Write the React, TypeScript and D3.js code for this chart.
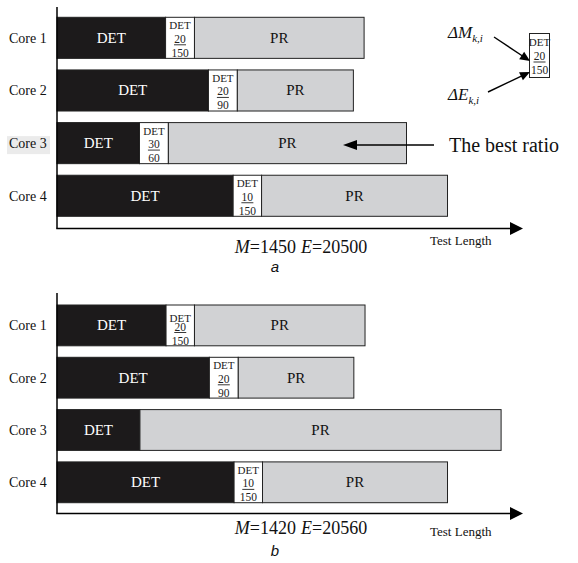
import React from "react";
import * as d3 from "d3";

const cores = ["Core 1", "Core 2", "Core 3", "Core 4"];

// Panel a: segment lengths (test-length units)
const detA = [23.3, 32.5, 17.7, 37.8];
const deltaA = [6.2, 6.2, 6.2, 6.1];
const prA = [36.4, 24.9, 51.1, 39.9];
const dMA: (number | null)[] = [20, 20, 30, 10];
const dEA: (number | null)[] = [150, 90, 60, 150];

// Panel b
const detB = [23.4, 32.7, 17.8, 38.0];
const deltaB = [6.1, 6.2, 0, 6.1];
const prB = [36.6, 24.8, 77.5, 39.7];
const dMB: (number | null)[] = [20, 20, null, 10];
const dEB: (number | null)[] = [150, 90, null, 150];

const totalsA = { M: 1450, E: 20500 };
const totalsB = { M: 1420, E: 20560 };

const SERIF = "'Liberation Serif', 'Times New Roman', serif";
const SANS = "'Liberation Sans', Arial, sans-serif";

const x = d3.scaleLinear().domain([0, 100]).range([57, 523]);

function Arrow({ x1, y1, x2, y2, len = 13, half = 5, sw = 1.6 }: any) {
  const dx = x2 - x1, dy = y2 - y1;
  const L = Math.hypot(dx, dy);
  const ux = dx / L, uy = dy / L;
  const bx = x2 - ux * len, by = y2 - uy * len;
  const px = -uy, py = ux;
  const pts = [
    [x2, y2],
    [bx + px * half, by + py * half],
    [bx - px * half, by - py * half],
  ];
  return (
    <g>
      <line x1={x1} y1={y1} x2={bx + ux * 1} y2={by + uy * 1} stroke="#000" strokeWidth={sw} />
      <polygon points={pts.map((p) => p.join(",")).join(" ")} fill="#000" />
    </g>
  );
}

function Panel({ det, delta, pr, dM, dE, bandRange, axisTop, axisY, totals, totalsY, tlY, letter, letterY, highlight, boxShift }: any) {
  const y = d3.scaleBand<string>().domain(cores).range(bandRange).paddingInner(0.22).paddingOuter(0);
  const bw = y.bandwidth();
  return (
    <g>
      {cores.map((c, i) => {
        const top = y(c)!;
        const cy = top + bw / 2;
        const x0 = x(0), x1 = x(det[i]), x2 = x(det[i] + delta[i]), x3 = x(det[i] + delta[i] + pr[i]);
        const sh = boxShift ? boxShift[i] : 0;
        return (
          <g key={c}>
            {highlight === i && <rect x={7} y={cy - 7} width={43} height={18} fill="#ebebeb" />}
            <text x={9} y={cy + 5} fontFamily={SERIF} fontSize={14} fill="#111">{c}</text>
            <rect x={x0} y={top} width={x1 - x0} height={bw} fill="#1c1a1b" stroke="#222" strokeWidth={1} />
            <text x={(x0 + x1) / 2} y={cy + 5} textAnchor="middle" fontFamily={SERIF} fontSize={15} fill="#fff">DET</text>
            {delta[i] > 0 && (
              <g>
                <rect x={x1} y={top} width={x2 - x1} height={bw} fill="#fff" stroke="#222" strokeWidth={1} />
                <text x={(x1 + x2) / 2} y={top + 12 + sh} textAnchor="middle" fontFamily={SERIF} fontSize={11} fill="#222">DET</text>
                <text x={(x1 + x2) / 2} y={top + 25.5} textAnchor="middle" fontFamily={SERIF} fontSize={11.5} fill="#222">{dM[i]}</text>
                <line x1={(x1 + x2) / 2 - 6} x2={(x1 + x2) / 2 + 6} y1={top + 27.5} y2={top + 27.5} stroke="#222" strokeWidth={0.9} />
                <text x={(x1 + x2) / 2} y={top + 39.5} textAnchor="middle" fontFamily={SERIF} fontSize={11.5} fill="#222">{dE[i]}</text>
              </g>
            )}
            <rect x={x2} y={top} width={x3 - x2} height={bw} fill="#d1d2d4" stroke="#222" strokeWidth={1} />
            <text x={(x2 + x3) / 2} y={cy + 5} textAnchor="middle" fontFamily={SERIF} fontSize={15} fill="#111">PR</text>
          </g>
        );
      })}
      <line x1={x(0)} x2={x(0)} y1={axisTop} y2={axisY} stroke="#000" strokeWidth={1.5} />
      <Arrow x1={x(0) - 0.75} y1={axisY} x2={x(100)} y2={axisY} len={13} half={6.5} sw={1.5} />
      <text x={430} y={tlY} fontFamily={SERIF} fontSize={13} fill="#111">Test Length</text>
      <text x={301} y={totalsY} textAnchor="middle" fontFamily={SERIF} fontSize={18} fill="#111">
        <tspan fontStyle="italic">M</tspan>
        <tspan>={totals.M}</tspan>
        <tspan dx={5} fontStyle="italic">E</tspan>
        <tspan>={totals.E}</tspan>
      </text>
      <text x={275} y={letterY} textAnchor="middle" fontFamily={SANS} fontStyle="italic" fontSize={15} fill="#111">{letter}</text>
    </g>
  );
}

export default function App() {
  return (
    <svg width={578} height={563} style={{ position: "absolute", left: 0, top: 0, background: "#fff" }}>
      <rect x={0} y={0} width={578} height={563} fill="#fff" />
      <Panel det={detA} delta={deltaA} pr={prA} dM={dMA} dE={dEA} bandRange={[17.3, 216.3]}
        axisTop={7} axisY={228.5} totals={totalsA} totalsY={253} tlY={245} letter="a" letterY={272} highlight={2} />
      <Panel det={detB} delta={deltaB} pr={prB} dM={dMB} dE={dEB} bandRange={[305, 502.7]}
        axisTop={293} axisY={513.5} totals={totalsB} totalsY={534} tlY={536} letter="b" letterY={556} boxShift={[5, 0, 0, 0]} />

      {/* Legend */}
      <text x={448} y={38} fontFamily={SERIF} fontSize={17} fontStyle="italic" fill="#111">
        ΔM<tspan fontSize={11} dy={4}>k,i</tspan>
      </text>
      <text x={448} y={100} fontFamily={SERIF} fontSize={17} fontStyle="italic" fill="#111">
        ΔE<tspan fontSize={11} dy={4}>k,i</tspan>
      </text>
      <rect x={529.5} y={33.5} width={20} height={44} fill="#fff" stroke="#222" strokeWidth={1} />
      <text x={539.5} y={46} textAnchor="middle" fontFamily={SERIF} fontSize={11} fill="#222">DET</text>
      <text x={539.5} y={60} textAnchor="middle" fontFamily={SERIF} fontSize={11.5} fill="#222">20</text>
      <line x1={533.5} x2={545.5} y1={62} y2={62} stroke="#222" strokeWidth={0.9} />
      <text x={539.5} y={73.5} textAnchor="middle" fontFamily={SERIF} fontSize={11.5} fill="#222">150</text>
      <Arrow x1={494} y1={37} x2={530} y2={61} len={10} half={4.5} sw={1.4} />
      <Arrow x1={488} y1={92} x2={530} y2={72} len={10} half={4.5} sw={1.4} />

      <Arrow x1={434} y1={145} x2={343} y2={145} len={14} half={5} sw={1.6} />
      <text x={449} y={151.5} fontFamily={SERIF} fontSize={20} fill="#111">The best ratio</text>
    </svg>
  );
}
